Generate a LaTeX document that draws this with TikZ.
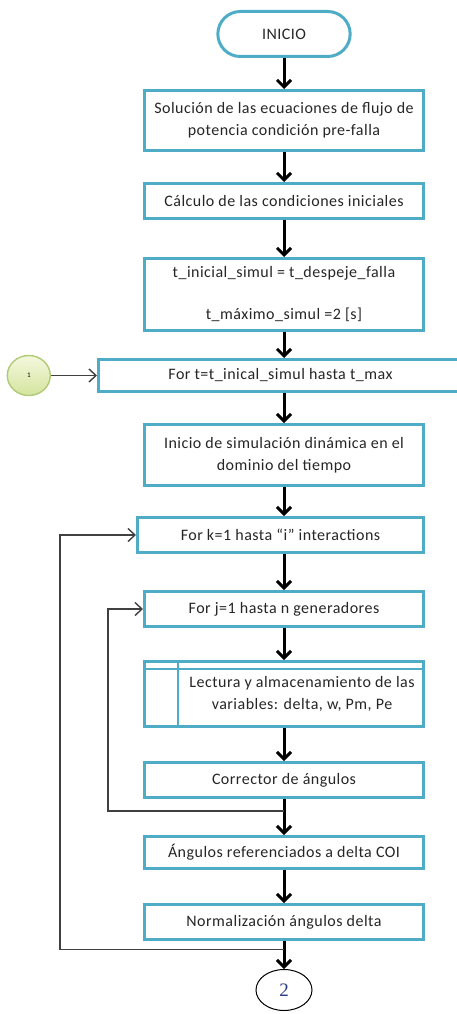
\documentclass[tikz,border=0pt]{standalone}
\usepackage{fontspec}
\setmainfont{Carlito}[LetterSpace=3]
\newfontfamily\numfont{Liberation Serif}
\usepackage{xcolor}
\usepackage{tikz}
\usetikzlibrary{positioning,arrows.meta,calc,shapes.misc,shapes.geometric}

\definecolor{boxblue}{RGB}{78,172,198}
\definecolor{conlight}{RGB}{244,248,222}
\definecolor{condark}{RGB}{212,228,158}
\definecolor{conborder}{RGB}{176,202,118}
\definecolor{numblue}{RGB}{40,62,130}

\begin{document}
\begin{tikzpicture}[
    procbox/.style={draw=boxblue, line width=3pt, fill=white, minimum width=279pt, align=center, text=black!85, font=\fontsize{16}{22}\selectfont},
    termbox/.style={rounded rectangle, draw=boxblue, line width=3pt, fill=white, minimum width=139pt, minimum height=45pt, text=black!85, font=\fontsize{16}{22}\selectfont},
    lectlbl/.style={align=center, text=black!85, font=\fontsize{16}{22}\selectfont, xshift=18pt},
    innerline/.style={draw=boxblue, line width=2.4pt},
    connA/.style={ellipse, draw=conborder, line width=1.4pt, top color=conlight, bottom color=condark, minimum width=43pt, minimum height=40pt, inner sep=0pt, font=\fontsize{7}{7}\selectfont},
    connB/.style={ellipse, draw=black, line width=1pt, minimum width=56pt, minimum height=41pt, inner sep=0pt, text=numblue, font=\numfont\fontsize{19}{19}\selectfont},
    arr/.style={-{Straight Barb[length=7pt, width=14pt]}, line width=3pt},
    looparr/.style={-{Straight Barb[length=7pt, width=13pt]}, line width=1.4pt, draw=black!75},
]
    \useasboundingbox (0,0) rectangle (457pt,-1014pt);

    % Main column
    \node[termbox] (inicio) at (284pt,-34pt) {INICIO};
    \node[procbox, minimum height=60pt, below=31pt of inicio] (sol) {Solución de las ecuaciones de flujo de\\potencia condición pre-falla};
    \node[procbox, minimum height=35pt, below=30pt of sol] (calc) {Cálculo de las condiciones iniciales};
    \node[procbox, minimum height=72pt, below=37pt of calc] (tini) {t\_inicial\_simul = t\_despeje\_falla\\[20pt]t\_máximo\_simul =2 [s]};
    \node[procbox, minimum height=32pt, minimum width=364pt, below=26pt of tini, xshift=-3.5pt] (forT) {For t=t\_inical\_simul hasta t\_max};
    \node[procbox, minimum height=61pt, below=30pt of forT, xshift=3.5pt] (inisim) {Inicio de simulación dinámica en el\\dominio del tiempo};
    \node[procbox, minimum height=35pt, minimum width=286pt, below=29pt of inisim, xshift=-3.5pt] (fork) {For k=1 hasta “i” interactions};
    \node[procbox, minimum height=35pt, below=36pt of fork, xshift=3.5pt] (forj) {For j=1 hasta n generadores};
    \node[procbox, minimum height=65pt, below=32pt of forj,
          label={[lectlbl]center:Lectura y almacenamiento de las\\variables: delta, w, Pm, Pe}] (lect) {};
    \node[procbox, minimum height=35pt, below=33pt of lect] (corr) {Corrector de ángulos};
    \node[procbox, minimum height=32pt, below=36pt of corr] (angref) {Ángulos referenciados a delta COI};
    \node[procbox, minimum height=35pt, below=33pt of angref] (norm) {Normalización ángulos delta};

    % Connectors
    \node[connA, left=46pt of forT] (con1) {1};
    \node[connB, below=28pt of norm] (fin) {2};

    % Inner lines of the storage box
    \draw[innerline] ($(lect.north west)+(0,-9pt)$) -- ($(lect.north east)+(0,-9pt)$);
    \draw[innerline] ($(lect.north west)+(35pt,0)$) -- ($(lect.south west)+(35pt,0)$);

    % Main flow
    \foreach \a/\b in {inicio/sol, sol/calc, calc/tini, tini/forT, forT/inisim, inisim/fork, fork/forj, forj/lect, lect/corr, corr/angref, angref/norm, norm/fin}
        \draw[arr] (inicio.south |- \a.south) -- (inicio.south |- \b.north);

    % Loops
    \coordinate (innerx) at (108pt,0);
    \coordinate (outerx) at (60pt,0);
    \coordinate (jin) at ($(corr.south)!0.33!(angref.north)$);
    \coordinate (jout) at ($(norm.south)!0.3!(fin.north)$);
    \draw[looparr] (jin) -- (jin -| innerx) |- (forj.west);
    \draw[looparr] (jout) -- (jout -| outerx) |- (fork.west);
    \draw[looparr] (con1) -- (forT);

\end{tikzpicture}
\end{document}
